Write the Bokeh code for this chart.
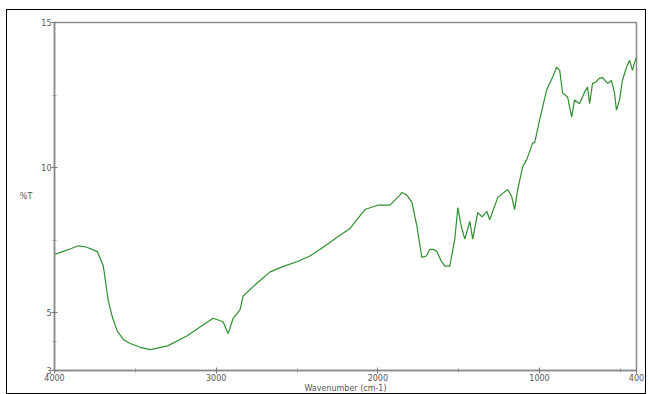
from bokeh.plotting import figure
from bokeh.models import Range1d, FixedTicker
from bokeh.embed import file_html
from bokeh.resources import INLINE

# FTIR spectrum
wavenumber = [4000, 3950, 3900, 3852, 3800, 3735, 3698, 3667, 3640, 3611, 3570, 3531,
              3470, 3407, 3300, 3179, 3100, 3019, 2957, 2926, 2895, 2852, 2833,
              2750, 2666, 2580, 2500, 2420, 2357, 2300, 2250, 2172, 2080, 2000,
              1925, 1863, 1851, 1820, 1789, 1758, 1728, 1700, 1678, 1655, 1635,
              1610, 1586, 1555, 1524, 1505, 1485, 1462, 1431, 1413, 1382, 1355,
              1326, 1308, 1258, 1197, 1172, 1154, 1135, 1104, 1079, 1042, 1030,
              999, 956, 920, 894, 875, 857, 826, 801, 783, 752, 721, 703, 690,
              672, 650, 629, 610, 579, 555, 536, 524, 505, 487, 462, 443, 425, 413, 400]
transmittance = [7.0, 7.1, 7.2, 7.3, 7.25, 7.1, 6.6, 5.4, 4.8, 4.35, 4.05, 3.93,
                 3.8, 3.72, 3.85, 4.2, 4.5, 4.8, 4.68, 4.27, 4.8, 5.1, 5.57,
                 6.0, 6.4, 6.6, 6.75, 6.95, 7.18, 7.4, 7.6, 7.9, 8.55, 8.7,
                 8.7, 9.05, 9.14, 9.05, 8.8, 7.97, 6.9, 6.95, 7.18, 7.18, 7.1,
                 6.8, 6.6, 6.6, 7.53, 8.62, 8.0, 7.53, 8.14, 7.53, 8.45, 8.3,
                 8.49, 8.2, 8.97, 9.24, 9.0, 8.55, 9.24, 10.03, 10.27, 10.85, 10.85,
                 11.64, 12.67, 13.1, 13.46, 13.35, 12.57, 12.43, 11.74, 12.33, 12.2, 12.6, 12.77, 12.2,
                 12.9, 12.95, 13.08, 13.1, 12.9, 13.0, 12.57, 11.98, 12.33, 13.0, 13.46, 13.7, 13.35, 13.6, 13.8]

x_major = [4000, 3000, 2000, 1000, 400]
x_minor = [3500, 2500, 1500, 500]
y_major = [3, 5, 10, 15]
y_minor = [4, 7.5, 12.5]

p = figure(width=640, height=385, output_backend="svg", toolbar_location=None,
           x_range=Range1d(4000, 400), y_range=Range1d(3, 15),
           min_border_left=47, min_border_right=11, min_border_top=12, min_border_bottom=8)
p.styles = {"border": "1px solid black"}
p.margin = (9, 0, 0, 6)

p.line(wavenumber, transmittance, line_color="#2f8f2f", line_width=1.2)

p.grid.visible = False
p.outline_line_color = "#8a8a8a"
p.outline_line_width = 1.5

p.xaxis.ticker = FixedTicker(ticks=x_major, minor_ticks=x_minor)
p.yaxis.ticker = FixedTicker(ticks=y_major, minor_ticks=y_minor)
for ax in (p.xaxis[0], p.yaxis[0]):
    ax.axis_line_color = "#8a8a8a"
    ax.axis_line_width = 1.5
    ax.major_tick_line_color = "#777777"
    ax.minor_tick_line_color = "#999999"
    ax.major_tick_in = 3
    ax.major_tick_out = 3
    ax.minor_tick_in = 2
    ax.minor_tick_out = 2
    ax.major_label_text_font = "DejaVu Sans"
    ax.major_label_text_font_size = "8px"
    ax.major_label_text_color = "#555555"
    ax.major_label_standoff = 0
    ax.axis_label_text_font = "DejaVu Sans"
    ax.axis_label_text_font_size = "8px"
    ax.axis_label_text_color = "#555555"
    ax.axis_label_text_font_style = "normal"
    ax.axis_label_standoff = 0

p.xaxis.axis_label = "Wavenumber (cm-1)"
p.yaxis.axis_label = "%T"
p.yaxis.axis_label_orientation = "horizontal"
p.yaxis.axis_label_standoff = 6

open("out.html", "w").write(file_html(p, INLINE))
